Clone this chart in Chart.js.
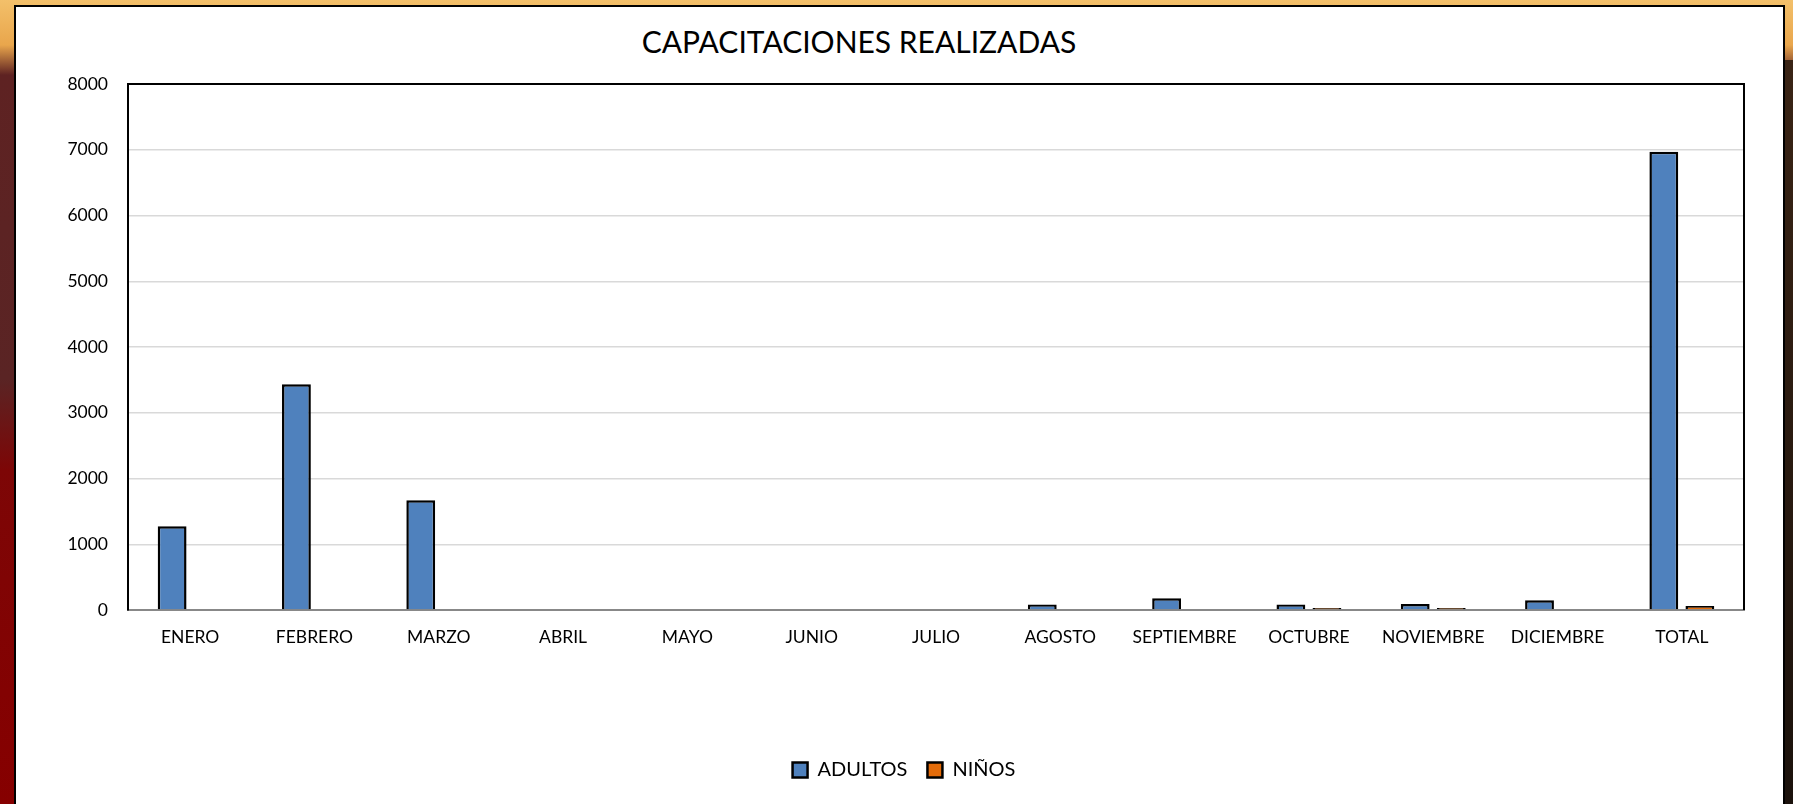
<!DOCTYPE html>
<html>
<head>
<meta charset="utf-8">
<script src="https://cdn.jsdelivr.net/npm/chart.js@4"></script>
<style>
  html, body { margin: 0; padding: 0; }
  body {
    width: 1793px; height: 804px; overflow: hidden; position: relative;
    background: linear-gradient(to bottom, #f3c06a 0px, #e9a64c 45px, #5e2222 75px, #5a2424 380px, #7d0606 470px, #860000 804px);
  }
  .right-side {
    position: absolute; left: 1780px; top: 60px; width: 13px; height: 744px;
    background: linear-gradient(to bottom, #3a2415, #1b120c);
  }
  .panel {
    position: absolute; left: 14px; top: 5px; width: 1767px; height: 797px;
    background: #fff; border: 2px solid #000;
  }
  .title {
    position: absolute; left: 0; top: 16px; width: 1686px; text-align: center;
    font-family: Lato, "Open Sans", sans-serif; font-size: 30px; color: #000;
  }
  canvas { position: absolute; left: 0; top: 0; }
</style>
</head>
<body>
<div class="right-side"></div>
<div class="panel">
  <div class="title">CAPACITACIONES REALIZADAS</div>
  <canvas id="myChart" width="1767" height="797"></canvas>
</div>
<script>
const months = ['ENERO', 'FEBRERO', 'MARZO', 'ABRIL', 'MAYO', 'JUNIO', 'JULIO',
  'AGOSTO', 'SEPTIEMBRE', 'OCTUBRE', 'NOVIEMBRE', 'DICIEMBRE', 'TOTAL']
const adultos = [1275, 3435, 1670, 0, 0, 0, 0, 85, 180, 85, 90, 150, 6970]
const ninos = [0, 0, 0, 0, 0, 0, 0, 0, 0, 30, 30, 0, 60]
const yTicks = [0, 1000, 2000, 3000, 4000, 5000, 6000, 7000, 8000]

const tickFont = { family: 'Lato', size: 17.5 }

// frame on top and right of the plot area
const plotFrame = {
  id: 'plotFrame',
  afterDraw(chart) {
    const { ctx, chartArea } = chart
    ctx.save()
    ctx.strokeStyle = '#000'
    ctx.lineWidth = 2
    ctx.beginPath()
    ctx.moveTo(chartArea.left, chartArea.top)
    ctx.lineTo(chartArea.right, chartArea.top)
    ctx.lineTo(chartArea.right, chartArea.bottom)
    ctx.stroke()
    ctx.restore()
  }
}

const ctx = document.getElementById('myChart').getContext('2d')
const chart = new Chart(ctx, {
  type: 'bar',
  data: {
    labels: months,
    datasets: [{
      label: 'ADULTOS',
      data: adultos,
      backgroundColor: '#4F81BD',
      borderColor: '#000',
      borderWidth: 2.5,
      barPercentage: 0.8,
      categoryPercentage: 0.58
    }, {
      label: 'NIÑOS',
      data: ninos,
      backgroundColor: '#E46C0A',
      borderColor: '#000',
      borderWidth: 2.5,
      barPercentage: 0.8,
      categoryPercentage: 0.58
    }]
  },
  options: {
    responsive: false,
    animation: false,
    layout: { padding: { top: 77, left: 48, right: 39, bottom: 14 } },
    plugins: {
      title: { display: false },
      tooltip: { enabled: false },
      legend: {
        position: 'bottom',
        labels: {
          font: { family: 'Lato', size: 20 },
          color: '#000',
          boxWidth: 15,
          boxHeight: 15,
          padding: 20
        }
      }
    },
    scales: {
      x: {
        grid: { display: false, drawTicks: false },
        border: { color: '#888', width: 2 },
        ticks: { font: tickFont, color: '#000', padding: 17, maxRotation: 0, autoSkip: false },
        afterFit(scale) { scale.height = 130 }
      },
      y: {
        min: 0,
        max: 8000,
        grid: { color: '#d9d9d9', lineWidth: 1.5, drawTicks: false },
        border: { color: '#000', width: 2 },
        afterBuildTicks(scale) { scale.ticks = yTicks.map(v => ({ value: v })) },
        ticks: { font: tickFont, color: '#000', padding: 20, callback: v => String(v) },
        afterFit(scale) { scale.width = 64 }
      }
    }
  },
  plugins: [plotFrame]
})
</script>
</body>
</html>
